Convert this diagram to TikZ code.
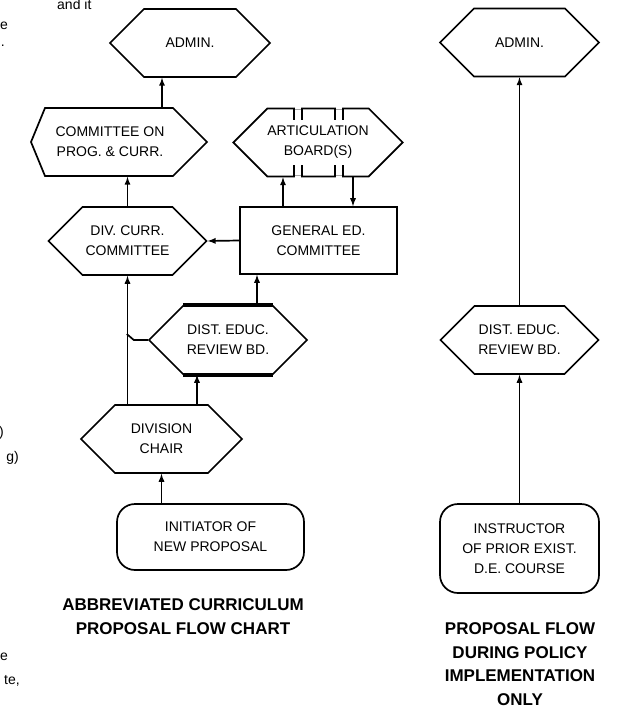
\documentclass[tikz,border=0pt]{standalone}
\usepackage{fontspec}
\setmainfont{Liberation Sans}
\usetikzlibrary{shapes.symbols}

\tikzset{
  hexa/.style={draw, line width=1.7pt, shape=signal, signal to=east and west,
    signal pointer angle=90, minimum width=158pt, minimum height=68pt,
    inner sep=0pt, align=center, font=\fontsize{14}{20}\selectfont},
  boxed/.style={draw, line width=1.7pt, rectangle, inner sep=0pt, align=center,
    font=\fontsize{14}{20}\selectfont},
  flow/.style={line width=1.7pt, -latex},
  heading/.style={align=center, font=\bfseries\fontsize{17}{23.5}\selectfont},
  scrap/.style={inner sep=0pt, font=\fontsize{14}{20}\selectfont}
}

\begin{document}
\begin{tikzpicture}[x=1pt,y=-1pt]
    \useasboundingbox (0,0) rectangle (616,708);
    %bits of the next column
    \node[scrap, anchor=west] (s1) at (57,5) {and it};
    \node[scrap, anchor=east] (s2) at (8,26) {e};
    \node[scrap, anchor=east] (s3) at (5,46) {.};
    \node[scrap, anchor=east] (s4) at (4,433) {)};
    \node[scrap, anchor=east] (s5) at (19,458) {g)};
    \node[scrap, anchor=east] (s6) at (8,657) {e};
    \node[scrap, anchor=east] (s7) at (20,681) {te,};
    %abbreviated chart
    \node[hexa, minimum width=160pt] (admin) at (190,43) {ADMIN.};
    \node[boxed, draw=none, minimum width=176pt, minimum height=68pt] (comm) at (110,142) {COMMITTEE ON\\PROG. \& CURR.};
    \draw[line width=1.7pt] ([xshift=-79]comm.center) -- ++(14,-34) -- ++(128,0) -- ++(34,34)
      -- ++(-34,34) -- ++(-128,0) -- cycle;
    \node[hexa] (artic) at (318,142.5) {ARTICULATION\\BOARD(S)};
    \node[hexa] (divcurr) at (127.5,241) {DIV. CURR.\\COMMITTEE};
    \node[boxed, minimum width=157pt, minimum height=67pt] (general) at (318.5,240.5) {GENERAL ED.\\COMMITTEE};
    \node[hexa] (dist) at (228,340) {DIST. EDUC.\\REVIEW BD.};
    \node[hexa, minimum width=161pt] (chair) at (161.5,439) {DIVISION\\CHAIR};
    \node[boxed, rounded corners=18pt, minimum width=187pt, minimum height=66pt] (initiator) at (210.5,537) {INITIATOR OF\\NEW PROPOSAL};
    \node[heading] (title) at (183,616.5) {ABBREVIATED CURRICULUM\\PROPOSAL FLOW CHART};
    %split marks
    \foreach \a/\b in {-24/-16,17/25}{
      \draw[white, line width=3.5pt] ([xshift=\a+1.2]artic.north) -- ([xshift=\b-1.2]artic.north);
      \draw[white, line width=3.5pt] ([xshift=\a+1.2]artic.south) -- ([xshift=\b-1.2]artic.south);
    }
    \foreach \a in {-24,-16,17,25}{
      \draw[line width=1.7pt] ([xshift=\a]artic.north) -- ++(0,12);
      \draw[line width=1.7pt] ([xshift=\a]artic.south) -- ++(0,-12);
    }
    \draw[line width=3.4pt] ([xshift=-45]dist.north) -- ([xshift=45]dist.north);
    \draw[line width=3.4pt] ([xshift=-45]dist.south) -- ([xshift=45]dist.south);
    %arrows
    \draw[flow] ([xshift=52]comm.north) -- ([xshift=52]comm.north |- admin.south);
    \draw[flow] (divcurr.north) -- (divcurr.north |- comm.south);
    \draw[flow] (general.west) -- (divcurr.east);
    \draw[flow] ([xshift=-35.5]general.north) -- ([xshift=-35.5]general.north |- artic.south);
    \draw[flow] ([xshift=34.5]general.north |- artic.south) -- ([xshift=34.5]general.north);
    \draw[flow] ([xshift=29]dist.north) -- ([xshift=29]dist.north |- general.south);
    \draw[flow] ([xshift=35.5]chair.north) -- ([xshift=35.5]chair.north |- dist.south);
    \draw[flow] (divcurr.south |- chair.north) -- (divcurr.south);
    \draw[line width=1.7pt] (dist.west) -- ++(-14,0) -- ++(-7,-6);
    \draw[flow] (chair.south |- initiator.north) -- (chair.south);
    %policy implementation chart
    \node[hexa, minimum width=159pt] (admin2) at (519.5,42.5) {ADMIN.};
    \node[hexa] (dist2) at (519.5,340) {DIST. EDUC.\\REVIEW BD.};
    \node[boxed, rounded corners=18pt, minimum width=159pt, minimum height=89pt] (instr) at (519.5,548.5) {INSTRUCTOR\\OF PRIOR EXIST.\\D.E. COURSE};
    \node[heading] (title2) at (520,664) {PROPOSAL FLOW\\DURING POLICY\\IMPLEMENTATION\\ONLY};
    \draw[flow] (dist2.north) -- (admin2.south);
    \draw[flow] (instr.north) -- (dist2.south);
\end{tikzpicture}
\end{document}
